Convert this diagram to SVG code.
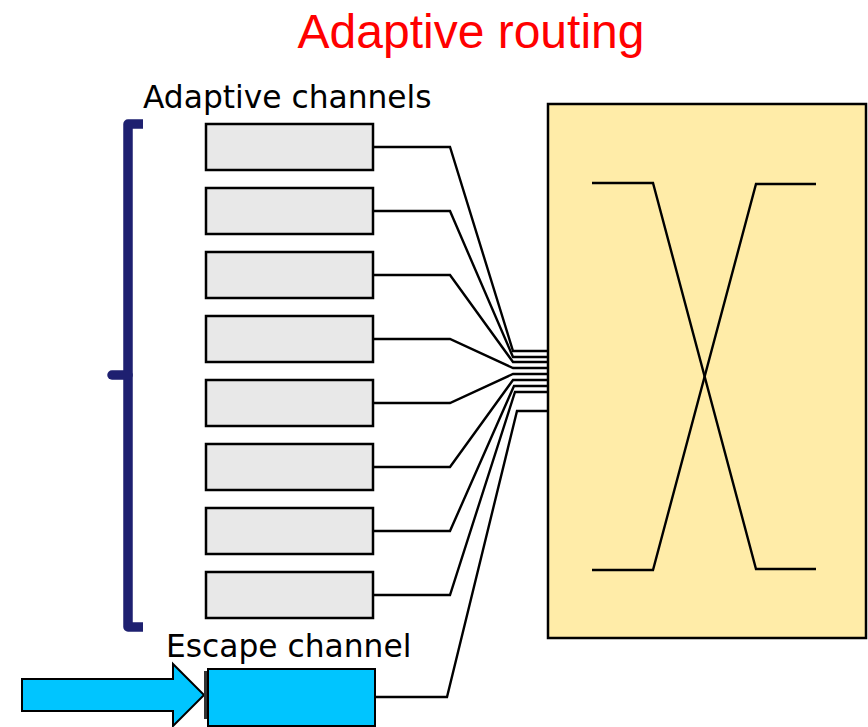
<svg xmlns="http://www.w3.org/2000/svg" width="868" height="727" viewBox="0 0 868 727">
  <style>
    .buf { fill: #E8E8E8; stroke: #000; stroke-width: 2.5; }
    .esc { fill: #00C5FF; stroke: #000; stroke-width: 2; }
    .wire { fill: none; stroke: #000; stroke-width: 2.4; stroke-linejoin: miter; }
    .label { font-family: "DejaVu Sans", sans-serif; font-size: 31.3px; fill: #000; }
    .title { font-family: "Liberation Sans", Arial, sans-serif; font-size: 48px; fill: #FF0000; }
    .brace { fill: none; stroke: #1E2070; stroke-width: 9.5; }
  </style>

  <rect width="868" height="727" fill="#fff"/>

  <text class="title" x="471" y="48" text-anchor="middle">Adaptive routing</text>
  <text class="label" x="143" y="108">Adaptive channels</text>
  <text class="label" x="166" y="657">Escape channel</text>

  <!-- brace grouping the adaptive channels -->
  <path class="brace" d="M143,124 H128 V627 H143" stroke-linejoin="round"/>
  <path class="brace" d="M112,375 H128" stroke-linecap="round"/>

  <!-- crossbar switch -->
  <g id="crossbar">
    <rect x="548" y="104" width="318" height="534" fill="#FFECA8" stroke="#000" stroke-width="2.5"/>
    <polyline class="wire" points="592,183 653,183 756,569 816,569"/>
    <polyline class="wire" points="816,184 756,184 653,570 592,570"/>
  </g>

  <!-- adaptive virtual channel buffers -->
  <g id="vc1"><rect class="buf" x="206" y="124" width="167" height="46"/></g>
  <g id="vc2"><rect class="buf" x="206" y="188" width="167" height="46"/></g>
  <g id="vc3"><rect class="buf" x="206" y="252" width="167" height="46"/></g>
  <g id="vc4"><rect class="buf" x="206" y="316" width="167" height="46"/></g>
  <g id="vc5"><rect class="buf" x="206" y="380" width="167" height="46"/></g>
  <g id="vc6"><rect class="buf" x="206" y="444" width="167" height="46"/></g>
  <g id="vc7"><rect class="buf" x="206" y="508" width="167" height="46"/></g>
  <g id="vc8"><rect class="buf" x="206" y="572" width="167" height="46"/></g>

  <!-- escape channel buffer with incoming arrow -->
  <g id="escape">
    <polygon class="esc" points="22,679 173,679 173,664 204,695 173,726 173,711 22,711"/>
    <rect x="204" y="671" width="4" height="48" fill="#333"/>
    <rect class="esc" x="208" y="669" width="167" height="57"/>
  </g>

  <!-- connectors from buffers into the crossbar -->
  <g id="connectors">
    <polyline class="wire" points="373,147 450,147 513,351 548,351"/>
    <polyline class="wire" points="373,211 450,211 513,357 548,357"/>
    <polyline class="wire" points="373,275 450,275 513,362 548,362"/>
    <polyline class="wire" points="373,339 450,339 513,368 548,368"/>
    <polyline class="wire" points="373,403 450,403 513,374 548,374"/>
    <polyline class="wire" points="373,467 450,467 513,380 548,380"/>
    <polyline class="wire" points="373,531 450,531 514,386 548,386"/>
    <polyline class="wire" points="373,595 450,595 515,392 548,392"/>
    <polyline class="wire" points="375,697 447,697 517,411 548,411"/>
  </g>
</svg>
